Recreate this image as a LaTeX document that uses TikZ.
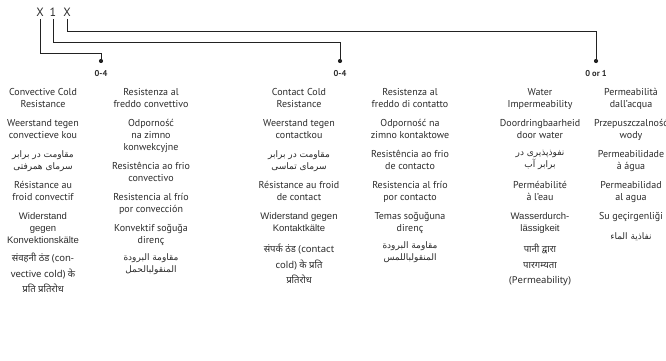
\documentclass[tikz,border=0pt]{standalone}
\usepackage{fontspec}
\setmainfont{PT Sans}
\newfontfamily\arialf{Liberation Sans}
\newfontfamily\hindif[Script=Devanagari]{Noto Sans}
\newfontfamily\arabf[Script=Arabic]{DejaVu Sans}
\TeXXeTstate=1
\definecolor{txt}{HTML}{2B2B2B}
\definecolor{ln}{HTML}{222222}
\begin{document}
\begin{tikzpicture}[x=1pt,y=-1pt,
  lbl/.style={font=\fontsize{10}{12}\selectfont, text=txt, align=center, inner sep=0pt, anchor=north},
  ari/.style={lbl, font=\arialf\fontsize{9.5}{12}\selectfont},
  hin/.style={lbl, font=\hindif\fontsize{9.5}{15.5}\selectfont},
  arb/.style={lbl, font=\arabf\fontsize{9}{12}\selectfont},
  hdr/.style={font=\fontsize{12}{14}\selectfont, text=txt, inner sep=0pt, anchor=base},
  rng/.style={font=\bfseries\fontsize{8.5}{10}\selectfont, text=txt, inner sep=0pt},
  link/.style={draw=ln, line width=0.9pt},
  dotn/.style={circle, fill=ln, inner sep=0pt, minimum size=4.2pt}]
\useasboundingbox (0,0) rectangle (666,361);
% header
\node[hdr] (xa) at (40,17) {X};
\node[hdr] (xb) at (53,17) {1};
\node[hdr] (xc) at (67,17) {X};
\coordinate (xaf) at (40,19);
\coordinate (xbf) at (53,19);
\coordinate (xcf) at (67,19);
% dots and ranges
\node[dotn] (d1) at (101,61) {};
\node[dotn] (d2) at (340,61) {};
\node[dotn] (d3) at (596,61) {};
\coordinate (k1) at (101,53);
\coordinate (k2) at (340,42);
\coordinate (k3) at (596,31);
\draw[link] (xaf) |- (k1) -- (d1.center);
\draw[link] (xbf) |- (k2) -- (d2.center);
\draw[link] (xcf) |- (k3) -- (d3.center);
\node[rng] (r1) at (101,74) {0-4};
\node[rng] (r2) at (340,74) {0-4};
\node[rng] (r3) at (596,74) {0 or 1};
% column 1
\node[lbl] (a1) at (43,88) {Convective Cold\\Resistance};
\node[lbl] (a2) at (43,119) {Weerstand tegen\\convectieve kou};
\node[arb] (a3) at (43,150) {\beginR مقاومت در برابر\endR\\\beginR سرمای همرفتی\endR};
\node[lbl] (a4) at (43,181) {Résistance au\\froid convectif};
\node[ari] (a5) at (43,212) {Widerstand\\gegen\\Konvektionskälte};
\node[hin] (a6) at (43,253) {संवहनी ठंड (con-\\vective cold) के\\प्रति प्रतिरोध};
% column 2
\node[lbl] (b1) at (151,88) {Resistenza al\\freddo convettivo};
\node[lbl] (b2) at (151,119) {Odporność\\na zimno\\konwekcyjne};
\node[lbl] (b3) at (151,162) {Resistência ao frio\\convectivo};
\node[lbl] (b4) at (151,193) {Resistencia al frío\\por convección};
\node[lbl] (b5) at (151,224) {Konvektif soğuğa\\direnç};
\node[arb] (b6) at (151,253) {\beginR مقاومة البرودة\endR\\\beginR المنقولبالحمل\endR};
% column 3
\node[lbl] (c1) at (299,88) {Contact Cold\\Resistance};
\node[lbl] (c2) at (299,119) {Weerstand tegen\\contactkou};
\node[arb] (c3) at (299,150) {\beginR مقاومت در برابر\endR\\\beginR سرمای تماسی\endR};
\node[lbl] (c4) at (299,181) {Résistance au froid\\de contact};
\node[ari] (c5) at (299,212) {Widerstand gegen\\Kontaktkälte};
\node[hin] (c6) at (299,244) {संपर्क ठंड (contact\\cold) के प्रति\\प्रतिरोध};
% column 4
\node[lbl] (e1) at (410,88) {Resistenza al\\freddo di contatto};
\node[lbl] (e2) at (410,119) {Odporność na\\zimno kontaktowe};
\node[lbl] (e3) at (410,150) {Resistência ao frio\\de contacto};
\node[lbl] (e4) at (410,181) {Resistencia al frío\\por contacto};
\node[lbl] (e5) at (410,212) {Temas soğuğuna\\direnç};
\node[arb] (e6) at (410,241) {\beginR مقاومة البرودة\endR\\\beginR المنقولباللمس\endR};
% column 5
\node[lbl] (f1) at (540,88) {Water\\Impermeability};
\node[lbl] (f2) at (540,119) {Doordringbaarheid\\door water};
\node[arb] (f3) at (540,150) {\beginR نفوذپذیری در\endR\\\beginR برابر آب\endR};
\node[lbl] (f4) at (540,181) {Perméabilité\\à l’eau};
\node[ari] (f5) at (540,212) {Wasserdurch-\\lässigkeit};
\node[hin] (f6) at (540,244) {पानी द्वारा\\पारगम्यता\\(Permeability)};
% column 6
\node[lbl] (g1) at (631,88) {Permeabilità\\dall’acqua};
\node[lbl] (g2) at (631,119) {Przepuszczalność\\wody};
\node[lbl] (g3) at (631,150) {Permeabilidade\\à água};
\node[lbl] (g4) at (631,181) {Permeabilidad\\al agua};
\node[lbl] (g5) at (631,212) {Su geçirgenliği};
\node[arb] (g6) at (631,232) {\beginR نفاذية الماء\endR};
\end{tikzpicture}
\end{document}
